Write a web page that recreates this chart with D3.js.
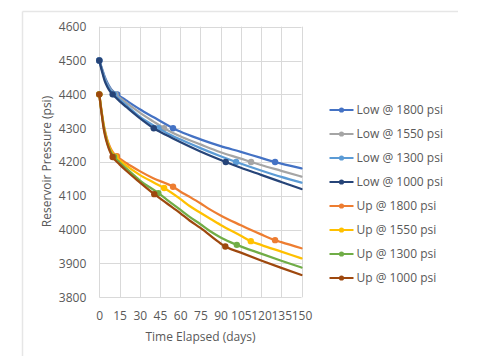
<!DOCTYPE html>
<html>
<head>
<meta charset="utf-8">
<script src="https://cdn.jsdelivr.net/npm/d3@7"></script>
<style>
  html, body { margin: 0; padding: 0; background: #fff; }
  svg { display: block; }
  text { font-family: "Open Sans", "Liberation Sans", sans-serif; fill: #595959; }
</style>
</head>
<body>
<svg id="chart" width="499" height="356"></svg>
<script>
// ---------- data ----------
const seriesNames = ["Low @ 1800 psi", "Low @ 1550 psi", "Low @ 1300 psi", "Low @ 1000 psi",
                     "Up @ 1800 psi", "Up @ 1550 psi", "Up @ 1300 psi", "Up @ 1000 psi"];

const xTicks = [0, 15, 30, 45, 60, 75, 90, 105, 120, 135, 150];
const yTicks = [3800, 3900, 4000, 4100, 4200, 4300, 4400, 4500, 4600];

// line samples (days, psi)
const low1800T = [0, 2, 4, 6, 8, 10, 13.3, 20, 30, 40, 54.7, 60, 75, 90, 105, 120, 130.4, 135, 150];
const low1800P = [4500, 4476, 4452, 4434, 4420, 4410, 4400, 4382, 4356, 4333, 4300, 4290, 4267, 4247, 4230, 4212, 4200, 4195, 4181];
const low1550T = [0, 2, 4, 6, 8, 12, 15, 20, 30, 40, 48, 60, 75, 90, 105, 112.6, 120, 135, 150];
const low1550P = [4500, 4474, 4448, 4430, 4417, 4400, 4390, 4375, 4346, 4320, 4300, 4276, 4252, 4229, 4210, 4200, 4191, 4174, 4157];
const low1300T = [0, 2, 4, 6, 8, 11, 15, 20, 30, 43.8, 50, 60, 75, 90, 101.5, 120, 135, 150];
const low1300P = [4500, 4472, 4445, 4427, 4414, 4400, 4385, 4368, 4334, 4300, 4286, 4267, 4241, 4217, 4200, 4175, 4156, 4139];
const low1000T = [0, 2, 4, 6, 8, 9.9, 15, 20, 30, 40.4, 50, 60, 75, 93.8, 105, 120, 135, 150];
const low1000P = [4500, 4468, 4440, 4422, 4409, 4400, 4380, 4363, 4330, 4300, 4279, 4259, 4231, 4200, 4183, 4162, 4141, 4120];

const up1800T = [0, 1, 2, 3, 4, 6, 8, 10, 13.1, 20, 30, 40, 54.7, 60, 67, 75, 82, 90, 105, 111.4, 120, 130.4, 135, 150];
const up1800P = [4400, 4370, 4342, 4317, 4296, 4265, 4244, 4229, 4217, 4197, 4173, 4152, 4127, 4113, 4097, 4078, 4060, 4042, 4013, 4001, 3986, 3969, 3963, 3945];
const up1550T = [0, 1, 2, 3, 4, 6, 8, 12, 15, 20, 30, 40, 48.1, 60, 67, 75, 82, 90, 105, 112.4, 120, 135, 150];
const up1550P = [4400, 4368, 4340, 4314, 4292, 4261, 4239, 4215, 4205, 4189, 4162, 4140, 4123, 4091, 4070, 4050, 4033, 4014, 3982, 3966, 3955, 3935, 3915];
const up1300T = [0, 1, 2, 3, 4, 6, 8, 11, 15, 20, 30, 43.8, 50, 60, 67, 75, 82, 90, 102, 120, 135, 150];
const up1300P = [4400, 4367, 4338, 4310, 4288, 4256, 4234, 4215, 4199, 4181, 4146, 4108, 4089, 4059, 4038, 4016, 3996, 3977, 3955, 3929, 3908, 3888];
const up1000T = [0, 1, 2, 3, 4, 6, 8, 9.9, 15, 20, 30, 40.8, 50, 60, 67, 75, 90, 93.5, 105, 120, 135, 150];
const up1000P = [4400, 4365, 4335, 4305, 4283, 4252, 4230, 4215, 4193, 4174, 4140, 4105, 4078, 4049, 4027, 4005, 3959, 3950, 3932, 3909, 3887, 3866];

// marker points (days, psi)
const low1800MT = [0, 13.3, 54.7, 130.4], low1800MP = [4500, 4400, 4300, 4200];
const low1550MT = [0, 12, 48, 112.6],     low1550MP = [4500, 4400, 4300, 4200];
const low1300MT = [0, 11, 43.8, 101.5],   low1300MP = [4500, 4400, 4300, 4200];
const low1000MT = [0, 9.9, 40.4, 93.8],   low1000MP = [4500, 4400, 4300, 4200];
const up1800MT = [0, 13.1, 54.7, 130.4],  up1800MP = [4400, 4217, 4127, 3969];
const up1550MT = [0, 12, 48.1, 112.4],    up1550MP = [4400, 4215, 4123, 3966];
const up1300MT = [0, 11, 43.8, 102],      up1300MP = [4400, 4215, 4108, 3955];
const up1000MT = [0, 9.9, 40.8, 93.5],    up1000MP = [4400, 4215, 4105, 3950];

// ---------- styles ----------
const colors = ["#4472C4", "#A5A5A5", "#5B9BD5", "#264478", "#ED7D31", "#FFC000", "#70AD47", "#9E480E"];

const zip = (t, p) => t.map((d, i) => ({ t: d, p: p[i] }));
const series = [
  { line: zip(low1800T, low1800P), marks: zip(low1800MT, low1800MP) },
  { line: zip(low1550T, low1550P), marks: zip(low1550MT, low1550MP) },
  { line: zip(low1300T, low1300P), marks: zip(low1300MT, low1300MP) },
  { line: zip(low1000T, low1000P), marks: zip(low1000MT, low1000MP) },
  { line: zip(up1800T, up1800P),   marks: zip(up1800MT, up1800MP) },
  { line: zip(up1550T, up1550P),   marks: zip(up1550MT, up1550MP) },
  { line: zip(up1300T, up1300P),   marks: zip(up1300MT, up1300MP) },
  { line: zip(up1000T, up1000P),   marks: zip(up1000MT, up1000MP) }
].map((s, i) => ({ ...s, name: seriesNames[i], color: colors[i] }));

// ---------- layout ----------
const svg = d3.select("#chart");
const plot = { left: 99.3, right: 301.5, top: 26.7, bottom: 297.3 };

const x = d3.scaleLinear().domain([0, 150]).range([plot.left, plot.right]);
const y = d3.scaleLinear().domain([3800, 4600]).range([plot.bottom, plot.top]);

// chart area border (top & left visible)
svg.append("line").attr("x1", 22.5).attr("x2", 458).attr("y1", 11.5).attr("y2", 11.5)
  .attr("stroke", "#e6e6e6").attr("stroke-width", 1.5);
svg.append("line").attr("x1", 22.5).attr("x2", 22.5).attr("y1", 11.5).attr("y2", 356)
  .attr("stroke", "#e6e6e6").attr("stroke-width", 1.5);

// gridlines
const grid = svg.append("g").attr("stroke", "#d9d9d9").attr("stroke-width", 1);
grid.selectAll("line.h").data(yTicks).join("line")
  .attr("x1", plot.left).attr("x2", plot.right)
  .attr("y1", d => Math.round(y(d)) + 0.5).attr("y2", d => Math.round(y(d)) + 0.5);
grid.selectAll("line.v").data(xTicks).join("line")
  .attr("y1", plot.top).attr("y2", plot.bottom)
  .attr("x1", d => Math.round(x(d)) + 0.5).attr("x2", d => Math.round(x(d)) + 0.5);

// axes (labels only)
const xAxis = svg.append("g").attr("transform", `translate(0,${plot.bottom})`)
  .call(d3.axisBottom(x).tickValues(xTicks).tickSize(0).tickPadding(14).tickFormat(d3.format("d")));
xAxis.select(".domain").remove();
xAxis.selectAll("text").style("font-size", "12px").attr("fill", "#595959");

const yAxis = svg.append("g").attr("transform", `translate(${plot.left},0)`)
  .call(d3.axisLeft(y).tickValues(yTicks).tickSize(0).tickPadding(13).tickFormat(d3.format("d")));
yAxis.select(".domain").remove();
yAxis.selectAll("text").style("font-size", "12px").attr("fill", "#595959");

// axis titles
svg.append("text").attr("x", 200.5).attr("y", 341).attr("text-anchor", "middle")
  .style("font-size", "12px").text("Time Elapsed (days)");
svg.append("text").attr("transform", "translate(51,161.5) rotate(-90)").attr("text-anchor", "middle")
  .style("font-size", "12px").text("Reservoir Pressure (psi)");

// series
const line = d3.line().x(d => x(d.t)).y(d => y(d.p)).curve(d3.curveMonotoneX);
const sg = svg.append("g");
series.forEach(s => {
  const g = sg.append("g");
  g.append("path").attr("d", line(s.line)).attr("fill", "none")
    .attr("stroke", s.color).attr("stroke-width", 2.25).attr("stroke-linejoin", "round").attr("stroke-linecap", "round");
  g.selectAll("circle").data(s.marks).join("circle")
    .attr("cx", d => x(d.t)).attr("cy", d => y(d.p)).attr("r", 3.2).attr("fill", s.color);
});

// legend
const legY = d3.scaleLinear().domain([0, 7]).range([110, 278]);
const leg = svg.append("g");
series.forEach((s, i) => {
  const yy = legY(i);
  leg.append("line").attr("x1", 329.5).attr("x2", 353.5).attr("y1", yy).attr("y2", yy)
    .attr("stroke", s.color).attr("stroke-width", 2);
  leg.append("circle").attr("cx", 341.5).attr("cy", yy).attr("r", 2.6).attr("fill", s.color);
  leg.append("text").attr("x", 356.5).attr("y", yy).attr("dy", "0.35em")
    .style("font-size", "12px").text(s.name);
});
</script>
</body>
</html>
